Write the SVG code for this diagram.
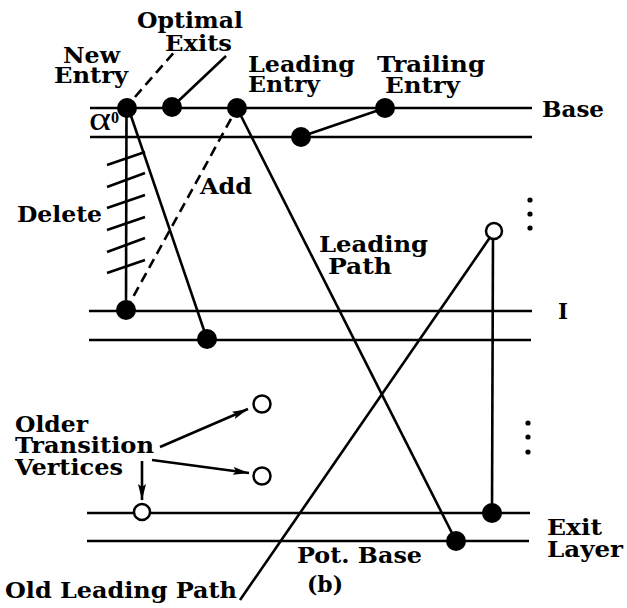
<svg xmlns="http://www.w3.org/2000/svg" width="627" height="608" viewBox="0 0 627 608">
<style>
.t{font-family:"DejaVu Serif","Liberation Serif",serif;font-weight:bold;font-size:23px;fill:#000}
.ln{stroke:#000;stroke-width:2.6;fill:none}
.ds{stroke:#000;stroke-width:2.6;fill:none;stroke-dasharray:10 6}
.fn{fill:#000}
.on{fill:#fff;stroke:#000;stroke-width:2.5}
.dot{fill:#000}
</style>
<defs>
<marker id="ah" viewBox="0 0 16 8" refX="16" refY="4" markerWidth="16" markerHeight="8" markerUnits="userSpaceOnUse" orient="auto">
<path d="M0,0 L16,4 L0,8 L3,4 Z" fill="#000"/>
</marker>
</defs>
<rect width="627" height="608" fill="#fff"/>
<g id="layers">
<line class="ln" x1="90" y1="108" x2="532" y2="108"/>
<line class="ln" x1="90" y1="137" x2="532" y2="137"/>
<line class="ln" x1="89" y1="311" x2="532" y2="311"/>
<line class="ln" x1="89" y1="340" x2="531" y2="340"/>
<line class="ln" x1="87" y1="513" x2="530" y2="513"/>
<line class="ln" x1="87" y1="541" x2="529" y2="541"/>
</g>
<g id="connectors">
<line class="ln" x1="126.5" y1="108" x2="126" y2="310"/>
<g id="delete-hatch">
<line class="ln" x1="107" y1="165" x2="145" y2="152"/>
<line class="ln" x1="107" y1="187" x2="145" y2="173"/>
<line class="ln" x1="107" y1="208" x2="145" y2="195"/>
<line class="ln" x1="107" y1="230" x2="145" y2="217"/>
<line class="ln" x1="107" y1="252" x2="145" y2="238"/>
<line class="ln" x1="107" y1="273" x2="145" y2="260"/>
</g>
<line class="ln" x1="129" y1="110" x2="207" y2="339"/>
<line class="ds" x1="126" y1="310" x2="237" y2="108"/>
<line class="ds" x1="135" y1="97" x2="176" y2="50"/>
<line class="ln" x1="172" y1="107" x2="226" y2="56"/>
<line class="ln" x1="237" y1="108" x2="456" y2="541"/>
<line class="ln" x1="300" y1="137" x2="385" y2="108"/>
<line class="ln" x1="493" y1="236" x2="492" y2="513"/>
<line class="ln" x1="491" y1="236" x2="240" y2="600"/>
<line class="ln" x1="160" y1="447" x2="248" y2="409" marker-end="url(#ah)"/>
<line class="ln" x1="152" y1="460" x2="249" y2="473" marker-end="url(#ah)"/>
<line class="ln" x1="142" y1="461" x2="142" y2="500" marker-end="url(#ah)"/>
</g>
<g id="new-entry"><circle class="fn" cx="127" cy="108" r="10"/></g>
<g id="optimal-exit"><circle class="fn" cx="172" cy="107" r="10"/></g>
<g id="leading-entry"><circle class="fn" cx="237" cy="108" r="10"/></g>
<g id="trailing-entry"><circle class="fn" cx="385" cy="108" r="10"/></g>
<g id="base2-node"><circle class="fn" cx="301" cy="137" r="10"/></g>
<g id="i-node"><circle class="fn" cx="126" cy="310" r="10"/></g>
<g id="i2-node"><circle class="fn" cx="207" cy="339" r="10"/></g>
<g id="exit-node"><circle class="fn" cx="492" cy="513" r="10"/></g>
<g id="potbase-node"><circle class="fn" cx="456" cy="541" r="10"/></g>
<g id="open-top"><circle class="on" cx="494" cy="231" r="8"/></g>
<g id="older1"><circle class="on" cx="262" cy="404" r="8.5"/></g>
<g id="older2"><circle class="on" cx="262" cy="476" r="8.5"/></g>
<g id="older3"><circle class="on" cx="142" cy="512" r="8"/></g>
<g id="ellipsis">
<circle class="dot" cx="530" cy="200" r="2.6"/>
<circle class="dot" cx="530" cy="214" r="2.6"/>
<circle class="dot" cx="530" cy="228" r="2.6"/>
<circle class="dot" cx="528" cy="423" r="2.6"/>
<circle class="dot" cx="528" cy="437" r="2.6"/>
<circle class="dot" cx="528" cy="452" r="2.6"/>
</g>
<g id="labels">
<text class="t" x="137" y="28" textLength="106" lengthAdjust="spacingAndGlyphs">Optimal</text>
<text class="t" x="165" y="51" textLength="67" lengthAdjust="spacingAndGlyphs">Exits</text>
<text class="t" x="63" y="63" textLength="57" lengthAdjust="spacingAndGlyphs">New</text>
<text class="t" x="54" y="83" textLength="74" lengthAdjust="spacingAndGlyphs">Entry</text>
<text class="t" x="248" y="72" textLength="107" lengthAdjust="spacingAndGlyphs">Leading</text>
<text class="t" x="248" y="92" textLength="72" lengthAdjust="spacingAndGlyphs">Entry</text>
<text class="t" x="377" y="72" textLength="108" lengthAdjust="spacingAndGlyphs">Trailing</text>
<text class="t" x="385" y="93" textLength="75" lengthAdjust="spacingAndGlyphs">Entry</text>
<text class="t" x="542" y="117" textLength="62" lengthAdjust="spacingAndGlyphs">Base</text>
<text x="89" y="130" textLength="22" lengthAdjust="spacingAndGlyphs" style="font-family:'Liberation Serif',serif;font-size:34px">α</text>
<text x="111" y="123" style="font-family:'Liberation Serif',serif;font-size:16px;font-weight:bold">0</text>
<text class="t" x="17" y="222" textLength="85" lengthAdjust="spacingAndGlyphs">Delete</text>
<text class="t" x="200" y="194" textLength="52" lengthAdjust="spacingAndGlyphs">Add</text>
<text class="t" x="319" y="252" textLength="109" lengthAdjust="spacingAndGlyphs">Leading</text>
<text class="t" x="328" y="274" textLength="64" lengthAdjust="spacingAndGlyphs">Path</text>
<text class="t" x="558" y="319" textLength="10" lengthAdjust="spacingAndGlyphs">I</text>
<text class="t" x="15" y="432" textLength="73" lengthAdjust="spacingAndGlyphs">Older</text>
<text class="t" x="15" y="453" textLength="139" lengthAdjust="spacingAndGlyphs">Transition</text>
<text class="t" x="15" y="475" textLength="108" lengthAdjust="spacingAndGlyphs">Vertices</text>
<text class="t" x="5" y="598" textLength="232" lengthAdjust="spacingAndGlyphs">Old Leading Path</text>
<text class="t" x="297" y="563" textLength="125" lengthAdjust="spacingAndGlyphs">Pot. Base</text>
<text class="t" x="307" y="592" textLength="36" lengthAdjust="spacingAndGlyphs">(b)</text>
<text class="t" x="547" y="535" textLength="55" lengthAdjust="spacingAndGlyphs">Exit</text>
<text class="t" x="547" y="557" textLength="76" lengthAdjust="spacingAndGlyphs">Layer</text>
</g>
</svg>
